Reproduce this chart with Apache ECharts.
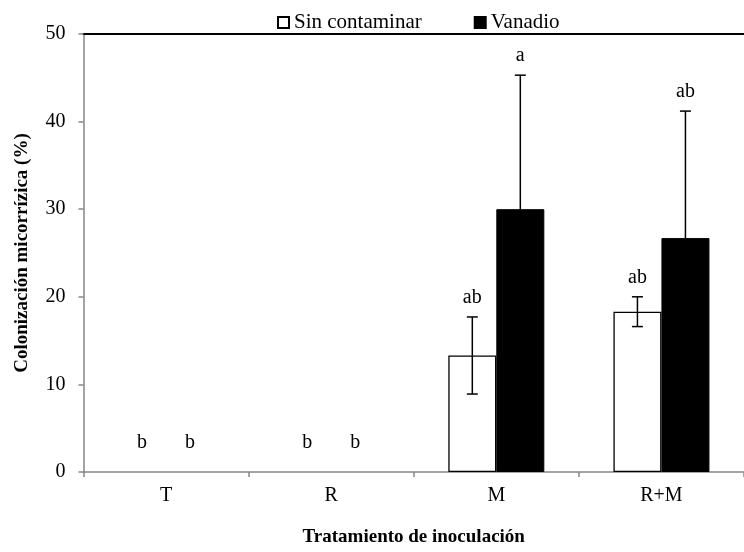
<!DOCTYPE html>
<html>
<head>
<meta charset="utf-8">
<script src="https://cdn.jsdelivr.net/npm/echarts@6/dist/echarts.min.js"></script>
<style>
  html, body { margin: 0; padding: 0; background: #fff; }
  #chart { width: 744px; height: 552px; }
</style>
</head>
<body>
<div id="chart"></div>
<script>
// Treatments and mean colonization (%) with standard deviation
const categories = ['T', 'R', 'M', 'R+M'];
const sinContaminar = [0, 0, 13.3, 18.3];
const sinContaminarSD = [0, 0, 4.4, 1.7];
const vanadio = [0, 0, 30.0, 26.7];
const vanadioSD = [0, 0, 15.3, 14.5];
// Significance letters above each bar
const lettersSin = ['b', 'b', 'ab', 'ab'];
const lettersVan = ['b', 'b', 'a', 'ab'];
const yTicks = [0, 10, 20, 30, 40, 50];

const FONT = 'Liberation Serif';
const BAR_W = 48;
const AXIS_GREY = '#868686';

// zero-height bars are left without an outline so nothing is drawn over the axis
function barData(values) {
  return values.map(v => v === 0 ? { value: v, itemStyle: { borderWidth: 0 } } : v);
}

function errorSeries(name, means, sds, letters, side) {
  return {
    type: 'custom',
    name: name + ' error',
    xAxisIndex: 0,
    yAxisIndex: 0,
    z: 5,
    silent: true,
    data: means.map((m, i) => [i, m, sds[i]]),
    renderItem: function (params, api) {
      const i = api.value(0), m = api.value(1), sd = api.value(2);
      const dx = side * BAR_W / 2;
      const top = api.coord([i, m + sd]);
      const bot = api.coord([i, m - sd]);
      const x = top[0] + dx;
      const cap = 5.5;
      const children = [];
      if (sd > 0) {
        const st = { stroke: '#000', lineWidth: 1.5 };
        children.push(
          { type: 'line', shape: { x1: x, y1: top[1], x2: x, y2: bot[1] }, style: st },
          { type: 'line', shape: { x1: x - cap, y1: top[1], x2: x + cap, y2: top[1] }, style: st },
          { type: 'line', shape: { x1: x - cap, y1: bot[1], x2: x + cap, y2: bot[1] }, style: st }
        );
      }
      const lift = (m + sd) > 0 ? 19 : 29;
      children.push({
        type: 'text',
        style: {
          text: letters[i], x: x, y: top[1] - lift,
          align: 'center', verticalAlign: 'middle',
          font: '20px "' + FONT + '"', fill: '#000'
        }
      });
      return { type: 'group', children: children };
    }
  };
}

const chart = echarts.init(document.getElementById('chart'), null, { renderer: 'canvas' });
chart.setOption({
  animation: false,
  backgroundColor: '#fff',
  textStyle: { fontFamily: FONT, color: '#000' },
  grid: { left: 83.5, right: -9.5, top: 34, bottom: 72, containLabel: false },
  legend: {
    data: [
      { name: 'Sin contaminar', icon: 'rect' },
      { name: 'Vanadio', icon: 'rect' }
    ],
    left: 272, top: 7,
    itemWidth: 11, itemHeight: 11, itemGap: 52,
    textStyle: { fontFamily: FONT, fontSize: 21, color: '#000' },
    selectedMode: false
  },
  xAxis: [{
    type: 'category',
    data: categories,
    axisLine: { lineStyle: { color: AXIS_GREY, width: 1.5 } },
    axisTick: { show: true, length: 5, lineStyle: { color: AXIS_GREY, width: 1.5 } },
    axisLabel: { fontFamily: FONT, fontSize: 20, color: '#000', margin: 14 },
    name: 'Tratamiento de inoculación',
    nameLocation: 'middle',
    nameGap: 56,
    nameTextStyle: { fontFamily: FONT, fontSize: 19, fontWeight: 'bold', color: '#000' }
  }, {
    type: 'category',
    data: categories,
    position: 'top',
    axisLine: { show: true, lineStyle: { color: '#000', width: 2 } },
    axisTick: { show: false },
    axisLabel: { show: false }
  }],
  yAxis: {
    type: 'value',
    min: yTicks[0], max: yTicks[yTicks.length - 1], interval: 10,
    axisLine: { show: true, lineStyle: { color: AXIS_GREY, width: 1.5 } },
    axisTick: { show: true, length: 5, lineStyle: { color: AXIS_GREY, width: 1.5 } },
    splitLine: { show: false },
    axisLabel: { fontFamily: FONT, fontSize: 20, color: '#000', margin: 18 },
    name: 'Colonización micorrízica (%)',
    nameLocation: 'middle',
    nameGap: 52,
    nameTextStyle: { fontFamily: FONT, fontSize: 19, fontWeight: 'bold', color: '#000' }
  },
  series: [
    {
      name: 'Sin contaminar', type: 'bar', data: barData(sinContaminar),
      barWidth: BAR_W, barGap: '0%',
      itemStyle: { color: '#fff', borderColor: '#000', borderWidth: 1.3 }
    },
    {
      name: 'Vanadio', type: 'bar', data: barData(vanadio),
      barWidth: BAR_W, barGap: '0%',
      itemStyle: { color: '#000', borderColor: '#000', borderWidth: 1 }
    },
    errorSeries('Sin contaminar', sinContaminar, sinContaminarSD, lettersSin, -1),
    errorSeries('Vanadio', vanadio, vanadioSD, lettersVan, 1)
  ]
});
</script>
</body>
</html>
